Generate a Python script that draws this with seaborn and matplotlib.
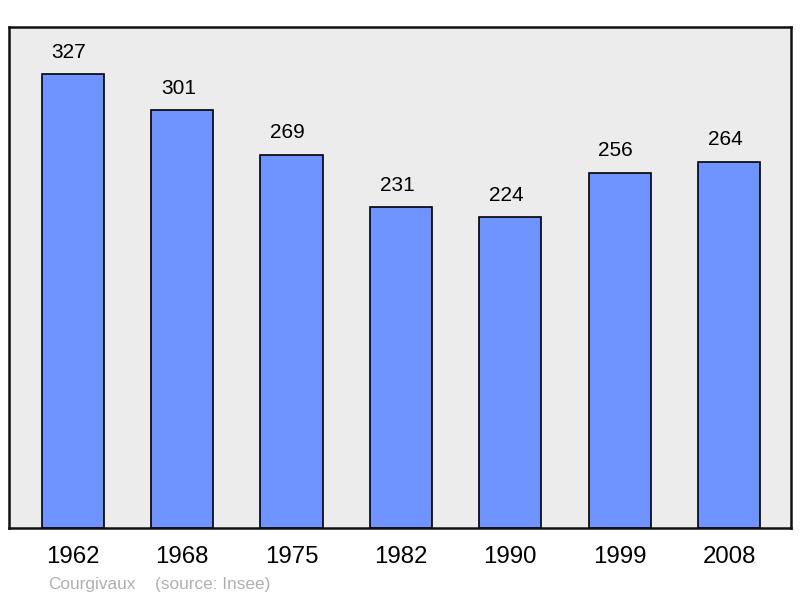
import numpy as np
import pandas as pd
import matplotlib.pyplot as plt
import seaborn as sns

years = ['1962', '1968', '1975', '1982', '1990', '1999', '2008']
population = [327, 301, 269, 231, 224, 256, 264]
commune = 'Courgivaux'
source = '(source: Insee)'

sns.set_theme(style='white')
plt.rcParams['font.family'] = ['Liberation Sans', 'DejaVu Sans']

df = pd.DataFrame({'year': years, 'pop': population})

fig = plt.figure(figsize=(8, 5.98), dpi=100)
ax = fig.add_axes([9 / 800, 1 - 528 / 598, 782 / 800, 501 / 598])
ax.set_facecolor('#ececec')

sns.barplot(data=df, x='year', y='pop', color='#7094ff', saturation=1,
            width=0.57, edgecolor='black', linewidth=1.2, ax=ax)

# value labels, slightly left of the bar centre like the original
for i, v in enumerate(population):
    ax.text(i - 0.037, v + 9, str(v), ha='center', va='bottom', fontsize=15, color='black')

ax.set_xlim(-0.585, 6.567)
ax.set_ylim(0, 361)
ax.set_yticks([])
ax.set_xlabel('')
ax.set_ylabel('')
ax.tick_params(axis='x', length=0, pad=13, labelsize=17.3, colors='black')
for s in ax.spines.values():
    s.set_visible(True)
    s.set_color('#111111')
    s.set_linewidth(1.8)

fig.text(48 / 800, 1 - 584 / 598, commune, fontsize=12.4, color='#b0b0b0', va='center')
fig.text(155 / 800, 1 - 584 / 598, source, fontsize=12.4, color='#b0b0b0', va='center')

fig.savefig('out.png', dpi=100)
